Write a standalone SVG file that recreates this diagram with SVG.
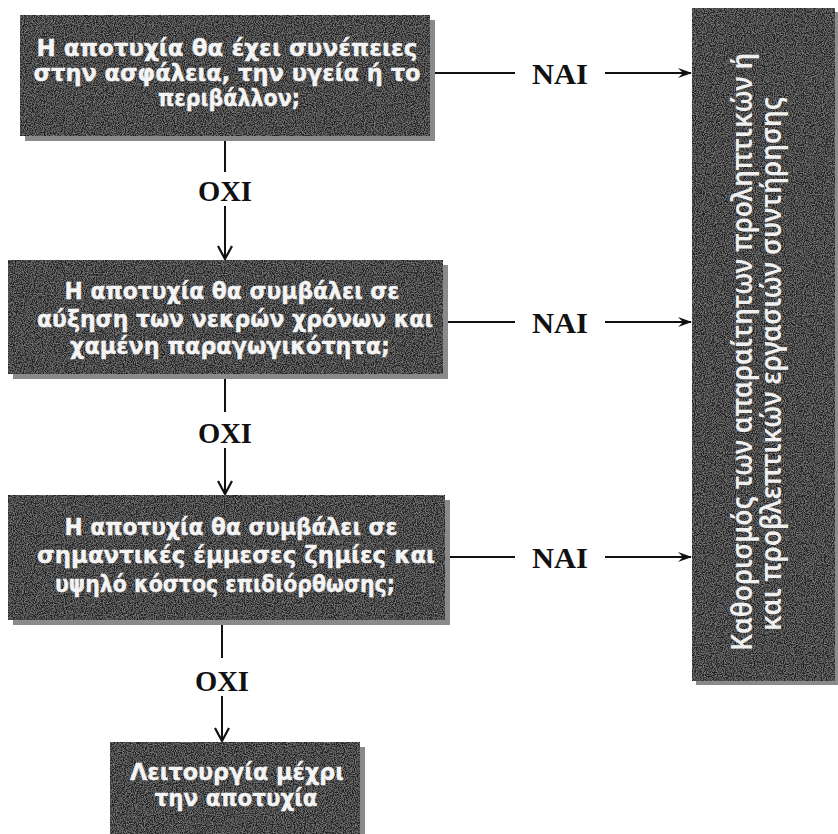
<svg xmlns="http://www.w3.org/2000/svg" width="838" height="834" viewBox="0 0 838 834">
<style>
.box{fill:#222222;filter:url(#grain)}
.sh{fill:#8a8a8a}
.t{font-family:"DejaVu Sans",Verdana,sans-serif;font-weight:bold;fill:#f4f4f4;stroke:#f4f4f4;stroke-width:0.4;text-anchor:middle}
.tr{font-family:"Noto Sans","DejaVu Sans",sans-serif;font-weight:600;fill:#f0f0f0;text-anchor:middle;font-size:28px}
.lbl{font-family:"Liberation Serif","DejaVu Serif",serif;font-weight:bold;fill:#111;text-anchor:middle;font-size:30px}
.ln{stroke:#111;stroke-width:2;fill:none}
</style>
<defs>
<filter id="grain" x="0" y="0" width="1" height="1">
<feTurbulence type="fractalNoise" baseFrequency="0.9" numOctaves="2" seed="3" result="n"/>
<feColorMatrix in="n" type="matrix" values="0 0 0 0 1  0 0 0 0 1  0 0 0 0 1  1.2 0 0 0 -0.45" result="w"/>
<feComposite in="w" in2="SourceGraphic" operator="in" result="wc"/>
<feComponentTransfer in="wc" result="wd"><feFuncA type="linear" slope="0.4"/></feComponentTransfer>
<feMerge><feMergeNode in="SourceGraphic"/><feMergeNode in="wd"/></feMerge>
</filter>
<marker id="ah" viewBox="0 0 14 10" refX="13" refY="5" markerWidth="14" markerHeight="10" markerUnits="userSpaceOnUse" orient="auto">
<path d="M0,0 L14,5 L0,10 L5,5 Z" fill="#111"/>
</marker>
<marker id="av" viewBox="0 0 16 16" refX="14" refY="8" markerWidth="16" markerHeight="16" markerUnits="userSpaceOnUse" orient="auto">
<path d="M1,1 L14,8 L1,15" fill="none" stroke="#111" stroke-width="2.2"/>
</marker>
</defs>
<rect width="838" height="834" fill="#ffffff"/>

<g id="connectors">
<line class="ln" x1="430" y1="73" x2="515" y2="73"/>
<line class="ln" x1="605" y1="73" x2="691" y2="73" marker-end="url(#ah)"/>
<text class="lbl" x="560" y="84" textLength="56" lengthAdjust="spacingAndGlyphs">ΝΑΙ</text>
<line class="ln" x1="443" y1="322" x2="515" y2="322"/>
<line class="ln" x1="605" y1="322" x2="691" y2="322" marker-end="url(#ah)"/>
<text class="lbl" x="560" y="333" textLength="56" lengthAdjust="spacingAndGlyphs">ΝΑΙ</text>
<line class="ln" x1="445" y1="557" x2="515" y2="557"/>
<line class="ln" x1="605" y1="557" x2="691" y2="557" marker-end="url(#ah)"/>
<text class="lbl" x="560" y="568" textLength="56" lengthAdjust="spacingAndGlyphs">ΝΑΙ</text>
<line class="ln" x1="225" y1="136" x2="225" y2="172"/>
<text class="lbl" x="225" y="201" textLength="54" lengthAdjust="spacingAndGlyphs">ΟΧΙ</text>
<line class="ln" x1="225" y1="206" x2="225" y2="259" marker-end="url(#av)"/>
<line class="ln" x1="225" y1="374" x2="225" y2="412"/>
<text class="lbl" x="225" y="443" textLength="54" lengthAdjust="spacingAndGlyphs">ΟΧΙ</text>
<line class="ln" x1="225" y1="448" x2="225" y2="494" marker-end="url(#av)"/>
<line class="ln" x1="222" y1="620" x2="222" y2="658"/>
<text class="lbl" x="222" y="691" textLength="54" lengthAdjust="spacingAndGlyphs">ΟΧΙ</text>
<line class="ln" x1="222" y1="696" x2="222" y2="741" marker-end="url(#av)"/>
</g>

<g id="n1">
<rect class="sh" x="25" y="20" width="410" height="121"/>
<rect class="box" x="20" y="15" width="410" height="121"/>
<text class="t" font-size="22.5" x="227" y="56" textLength="381" lengthAdjust="spacingAndGlyphs">Η αποτυχία θα έχει συνέπειες</text>
<text class="t" font-size="22.5" x="227" y="81" textLength="387" lengthAdjust="spacingAndGlyphs">στην ασφάλεια, την υγεία ή το</text>
<text class="t" font-size="22.5" x="229" y="106" textLength="142" lengthAdjust="spacingAndGlyphs">περιβάλλον;</text>
</g>

<g id="n2">
<rect class="sh" x="13" y="265" width="435" height="114"/>
<rect class="box" x="8" y="260" width="435" height="114"/>
<text class="t" font-size="23.5" x="232" y="299" textLength="335" lengthAdjust="spacingAndGlyphs">Η αποτυχία θα συμβάλει σε</text>
<text class="t" font-size="23.5" x="235" y="327" textLength="396" lengthAdjust="spacingAndGlyphs">αύξηση των νεκρών χρόνων και</text>
<text class="t" font-size="23.5" x="230" y="354" textLength="320" lengthAdjust="spacingAndGlyphs">χαμένη παραγωγικότητα;</text>
</g>

<g id="n3">
<rect class="sh" x="13" y="500" width="437" height="125"/>
<rect class="box" x="8" y="495" width="437" height="125"/>
<text class="t" font-size="23.5" x="231" y="535" textLength="333" lengthAdjust="spacingAndGlyphs">Η αποτυχία θα συμβάλει σε</text>
<text class="t" font-size="23.5" x="236" y="563" textLength="398" lengthAdjust="spacingAndGlyphs">σημαντικές έμμεσες ζημίες και</text>
<text class="t" font-size="23.5" x="225" y="592" textLength="340" lengthAdjust="spacingAndGlyphs">υψηλό κόστος επιδιόρθωσης;</text>
</g>

<g id="n4">
<rect class="sh" x="115" y="747" width="250" height="87"/>
<rect class="box" x="110" y="742" width="250" height="92"/>
<text class="t" font-size="23.5" x="237" y="780" textLength="214" lengthAdjust="spacingAndGlyphs">Λειτουργία μέχρι</text>
<text class="t" font-size="23.5" x="236" y="806" textLength="163" lengthAdjust="spacingAndGlyphs">την αποτυχία</text>
</g>

<g id="n5">
<rect class="sh" x="696" y="12" width="142" height="673"/>
<rect class="box" x="692" y="8" width="143" height="673"/>
<text class="tr" transform="translate(752,352) rotate(-90)" textLength="598" lengthAdjust="spacingAndGlyphs">Καθορισμός των απαραίτητων προληπτικών ή</text>
<text class="tr" transform="translate(781,364) rotate(-90)" textLength="534" lengthAdjust="spacingAndGlyphs">και προβλεπτικών εργασιών συντήρησης</text>
</g>
</svg>
